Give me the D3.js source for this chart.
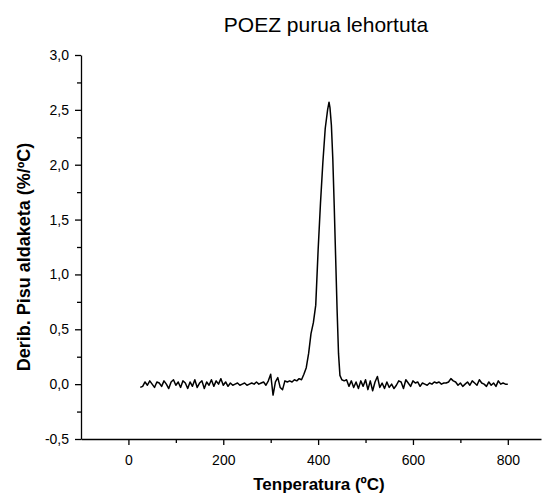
<!DOCTYPE html>
<html>
<head>
<meta charset="utf-8">
<script src="https://cdn.jsdelivr.net/npm/d3@7"></script>
<style>
  body { margin: 0; background: #fff; }
  text { font-family: Arial, "Liberation Sans", sans-serif; fill: #000; }
</style>
</head>
<body>
<div id="chart"></div>
<script>
// temperature (ºC) and derivative weight change (%/ºC)
const temps = [25, 30, 35, 40, 45, 50, 55, 60, 65, 70, 75, 80, 85, 90, 95, 100,
  105, 110, 115, 120, 125, 130, 135, 140, 145, 150, 155, 160, 165, 170, 175, 180,
  185, 190, 195, 200, 205, 210, 215, 220, 225, 230, 235, 240, 245, 250, 255, 260,
  265, 270, 275, 280, 285, 290, 295, 300, 305, 310, 315, 320, 325, 330, 335, 340,
  345, 350, 355, 360, 365, 370, 375, 380, 385, 390, 395, 400, 405, 410, 415, 420,
  423, 425, 428, 431, 434, 437, 440, 443, 446, 450, 455, 460, 465, 470, 475, 480,
  485, 490, 495, 500, 505, 510, 515, 520, 525, 530, 535, 540, 545, 550, 555, 560,
  565, 570, 575, 580, 585, 590, 595, 600, 605, 610, 615, 620, 625, 630, 635, 640,
  645, 650, 655, 660, 665, 670, 675, 680, 685, 690, 695, 700, 705, 710, 715, 720,
  725, 730, 735, 740, 745, 750, 755, 760, 765, 770, 775, 780, 785, 790, 795, 800];

const deriv = [-0.03, -0.02, 0.02, -0.01, 0.03, 0.00, -0.03, 0.02, 0.01, -0.02, 0.03, 0.00, -0.04, 0.02, 0.04, -0.01,
  0.02, -0.03, 0.03, 0.01, -0.04, 0.02, -0.02, 0.04, -0.03, 0.01, 0.03, -0.04, 0.02, -0.01, 0.04, -0.02,
  0.03, 0.00, 0.05, -0.01, 0.02, -0.02, 0.01, -0.01, 0.00, 0.01, -0.01, 0.00, 0.01, -0.01, 0.00, 0.01,
  0.00, 0.02, 0.00, 0.01, 0.02, -0.01, 0.03, 0.09, -0.10, 0.02, 0.06, -0.03, -0.05, 0.03, 0.02, 0.03,
  0.02, 0.04, 0.03, 0.05, 0.04, 0.09, 0.15, 0.28, 0.46, 0.56, 0.72, 1.22, 1.65, 2.02, 2.33, 2.50,
  2.57, 2.52, 2.36, 2.05, 1.62, 1.15, 0.68, 0.28, 0.08, 0.04, 0.03, 0.04, -0.02, 0.03, -0.03, 0.02,
  -0.04, 0.03, -0.02, 0.04, -0.05, 0.03, -0.06, 0.02, 0.07, -0.03, 0.01, -0.04, 0.02, -0.03, 0.00, -0.04,
  -0.01, 0.03, 0.02, -0.04, 0.04, 0.01, -0.02, 0.03, 0.01, 0.02, -0.02, 0.01, 0.00, -0.01, 0.01, 0.00,
  0.02, 0.01, 0.02, 0.00, 0.01, 0.01, 0.02, 0.05, 0.03, 0.02, -0.01, 0.01, -0.02, 0.00, 0.02, -0.01,
  0.03, 0.01, -0.01, 0.04, 0.01, 0.00, -0.02, 0.02, -0.01, 0.01, -0.02, 0.03, 0.00, 0.01, 0.00, 0.00];

const xTicks = [0, 200, 400, 600, 800];
const xMinorTicks = [100, 300, 500, 700];
const yTicks = [-0.5, 0, 0.5, 1, 1.5, 2, 2.5, 3];
const yMinorTicks = [-0.25, 0.25, 0.75, 1.25, 1.75, 2.25, 2.75];

const title = "POEZ purua lehortuta";
const xLabel = "Tenperatura (ºC)";
const yLabel = "Derib. Pisu aldaketa (%/ºC)";

const width = 544, height = 495;
const margin = { left: 81, right: 3, top: 55, bottom: 56 };

const svg = d3.select("#chart").append("svg")
    .attr("width", width)
    .attr("height", height);

const xScale = d3.scaleLinear().domain([-100, 870]).range([margin.left, width - margin.right]);
const yScale = d3.scaleLinear().domain([-0.5, 3]).range([height - margin.bottom, margin.top]);

const fmt = v => d3.format(".1f")(v).replace(".", ",").replace("−", "-");

// bottom axis: major + minor ticks
svg.append("g")
    .attr("transform", `translate(0, ${height - margin.bottom})`)
    .call(d3.axisBottom(xScale).tickValues(xMinorTicks).tickSize(4).tickFormat(""))
    .call(g => g.select(".domain").remove());
const xAxis = svg.append("g")
    .attr("class", "x axis")
    .attr("transform", `translate(0, ${height - margin.bottom})`)
    .call(d3.axisBottom(xScale).tickValues(xTicks).tickSizeInner(6).tickSizeOuter(0).tickPadding(10));

// left axis
svg.append("g")
    .attr("transform", `translate(${margin.left}, 0)`)
    .call(d3.axisLeft(yScale).tickValues(yMinorTicks).tickSize(4).tickFormat(""))
    .call(g => g.select(".domain").remove());
const yAxis = svg.append("g")
    .attr("class", "y axis")
    .attr("transform", `translate(${margin.left}, 0)`)
    .call(d3.axisLeft(yScale).tickValues(yTicks).tickSizeInner(6).tickSizeOuter(0).tickPadding(6).tickFormat(fmt));

svg.selectAll(".tick text").attr("font-size", 14).attr("font-family", "Arial, 'Liberation Sans', sans-serif").attr("fill", "#000");
svg.selectAll(".domain, .tick line").attr("stroke", "#000").attr("stroke-width", 1.3);

const line = d3.line()
    .x((d, i) => xScale(temps[i]))
    .y(d => yScale(d));

svg.append("path")
    .attr("fill", "none")
    .attr("stroke", "#000")
    .attr("stroke-width", 1.5)
    .attr("stroke-linejoin", "round")
    .attr("d", line(deriv));

svg.append("text")
    .attr("x", 326).attr("y", 32)
    .attr("text-anchor", "middle")
    .attr("font-size", 21)
    .text(title);

svg.append("text")
    .attr("x", 319).attr("y", 490)
    .attr("text-anchor", "middle")
    .attr("font-size", 17)
    .attr("font-weight", "bold")
    .text(xLabel);

svg.append("text")
    .attr("transform", "translate(30, 257) rotate(-90)")
    .attr("text-anchor", "middle")
    .attr("font-size", 18)
    .attr("font-weight", "bold")
    .text(yLabel);
</script>
</body>
</html>
